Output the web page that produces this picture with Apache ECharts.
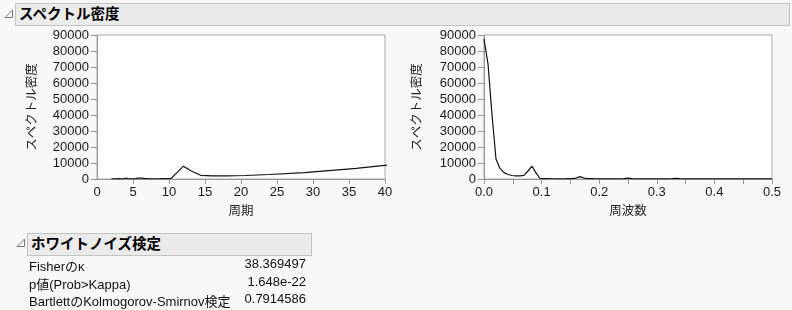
<!DOCTYPE html>
<html>
<head>
<meta charset="utf-8">
<script src="https://cdn.jsdelivr.net/npm/echarts@6/dist/echarts.min.js"></script>
<style>
  html, body { margin:0; padding:0; background:#f8f8f8; width:792px; height:310px; overflow:hidden;
    font-family: "Liberation Sans", "Noto Sans CJK JP", sans-serif; color:#111; }
  #chart { position:absolute; left:0; top:0; width:792px; height:310px; }
  .hdr { position:absolute; background:#ebebeb; border:1px solid #c4c4c4; box-sizing:border-box;
    font-weight:bold; font-size:14.5px; color:#000; line-height:20px; padding-left:3px; }
  .tri { position:absolute; }
  .row { position:absolute; left:29px; width:277px; font-size:13px; color:#111; }
  .row span.v { position:absolute; right:0; top:0; }
</style>
</head>
<body>
<div id="chart"></div>
<svg class="tri" style="left:4px;top:9px" width="10" height="10"><polygon points="8.5,1 8.5,8.5 1,8.5" fill="none" stroke="#777" stroke-width="1"/></svg>
<div class="hdr" style="left:15px;top:3px;width:775px;height:23px;">スペクトル密度</div>
<svg class="tri" style="left:16px;top:238px" width="10" height="10"><polygon points="8.5,1 8.5,8.5 1,8.5" fill="none" stroke="#777" stroke-width="1"/></svg>
<div class="hdr" style="left:27px;top:233px;width:285px;height:23px;">ホワイトノイズ検定</div>
<div id="table"></div>
<script>
// Periodogram of a series of length N (harmonics k = 0..72)
const N = 144;
const density = [
  87500, 72000, 40000, 12500, 6600, 4000, 2800, 2200, 2000, 1900,
  2300, 5000, 8000, 3800, 300, 250, 200, 150, 150, 120,
  150, 200, 250, 600, 1500, 600, 250, 200, 150, 120,
  100, 120, 150, 100, 120, 250, 600, 250, 120, 100,
  90, 100, 120, 100, 90, 100, 120, 200, 400, 200,
  100, 80, 90, 100, 80, 70, 90, 80, 70, 80,
  100, 90, 70, 60, 80, 70, 60, 70, 80, 60,
  50, 60, 70
];
const yTicks = [0, 10000, 20000, 30000, 40000, 50000, 60000, 70000, 80000, 90000];
const periodTicks = [0, 5, 10, 15, 20, 25, 30, 35, 40];
const freqTicks = [0.0, 0.1, 0.2, 0.3, 0.4, 0.5];
const tableLabels = ["Fisherのκ", "p値(Prob>Kappa)", "BartlettのKolmogorov-Smirnov検定"];
const tableValues = ["38.369497", "1.648e-22", "0.7914586"];

const freqData = density.map((v, k) => [k / N, v]);
const periodData = [];
for (let k = density.length - 1; k >= 3; k--) periodData.push([N / k, density[k]]);

const FONT = '"Liberation Sans", "Noto Sans CJK JP", sans-serif';
const labelStyle = { color: '#1a1a1a', fontSize: 13, fontFamily: FONT, showMaxLabel: true, hideOverlap: false };
function yAxis(gridIndex, gap) {
  return {
    gridIndex, type: 'value', min: yTicks[0], max: yTicks[yTicks.length - 1],
    interval: yTicks[1] - yTicks[0],
    name: 'スペクトル密度', nameLocation: 'middle', nameRotate: 90, nameGap: gap,
    nameTextStyle: { color: '#222', fontSize: 12.5, fontFamily: FONT },
    axisLine: { show: true, lineStyle: { color: '#999' } },
    axisTick: { show: true, length: 6, lineStyle: { color: '#999' } },
    axisLabel: Object.assign({ margin: 8, showMinLabel: true, formatter: v => String(v) }, labelStyle),
    splitLine: { show: false }
  };
}
const chart = echarts.init(document.getElementById('chart'), null, { renderer: 'canvas' });
chart.setOption({
  animation: false,
  backgroundColor: 'transparent',
  grid: [
    { left: 97, top: 35, width: 288, height: 144, show: true, backgroundColor: '#fff', borderColor: '#aaa', borderWidth: 1 },
    { left: 484, top: 35, width: 288, height: 144, show: true, backgroundColor: '#fff', borderColor: '#aaa', borderWidth: 1 }
  ],
  xAxis: [
    {
      gridIndex: 0, type: 'value', min: periodTicks[0], max: periodTicks[periodTicks.length - 1],
      interval: periodTicks[1] - periodTicks[0],
      name: '周期', nameLocation: 'middle', nameGap: 26,
      nameTextStyle: { color: '#222', fontSize: 12.5, fontFamily: FONT },
      axisLine: { lineStyle: { color: '#999' } },
      axisTick: { length: 5, lineStyle: { color: '#999' } },
      axisLabel: Object.assign({ margin: 7, showMinLabel: false, formatter: v => String(v) }, labelStyle),
      splitLine: { show: false }
    },
    {
      gridIndex: 1, type: 'value', min: freqTicks[0], max: freqTicks[freqTicks.length - 1],
      interval: 0.1,
      name: '周波数', nameLocation: 'middle', nameGap: 26,
      nameTextStyle: { color: '#222', fontSize: 12.5, fontFamily: FONT },
      axisLine: { lineStyle: { color: '#999' } },
      axisTick: { length: 5, lineStyle: { color: '#999' } },
      minorTick: { show: true, splitNumber: 2, length: 5, lineStyle: { color: '#999' } },
      axisLabel: Object.assign({ margin: 7, showMinLabel: true, formatter: v => v.toFixed(1) }, labelStyle),
      splitLine: { show: false }
    }
  ],
  yAxis: [yAxis(0, 58), yAxis(1, 60)],
  series: [
    { type: 'line', xAxisIndex: 0, yAxisIndex: 0, data: periodData, showSymbol: false, clip: true,
      lineStyle: { color: '#111', width: 1.2 } },
    { type: 'line', xAxisIndex: 1, yAxisIndex: 1, data: freqData, showSymbol: false, clip: true,
      lineStyle: { color: '#111', width: 1.2 } }
  ]
});
// Min tick label of the period axis, placed through the axis scale
const origin = chart.convertToPixel({ xAxisIndex: 0, yAxisIndex: 0 }, [periodTicks[0], yTicks[0]]);
chart.setOption({
  graphic: [{
    type: 'text', x: origin[0], y: origin[1] + 7, silent: true,
    style: { text: String(periodTicks[0]), fill: '#1a1a1a', font: '13px ' + FONT, align: 'center', verticalAlign: 'top' }
  }]
});

const tbl = document.getElementById('table');
const rowTops = [256, 274, 291];
tableLabels.forEach((lab, i) => {
  const d = document.createElement('div');
  d.className = 'row';
  d.style.top = rowTops[i] + 'px';
  d.textContent = lab;
  const s = document.createElement('span');
  s.className = 'v';
  s.textContent = tableValues[i];
  d.appendChild(s);
  tbl.appendChild(d);
});
</script>
</body>
</html>
